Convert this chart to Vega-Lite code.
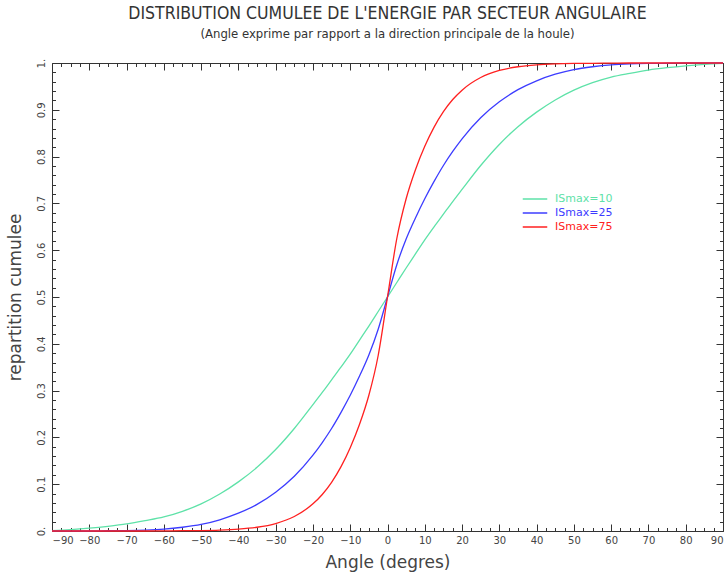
{
  "$schema": "https://vega.github.io/schema/vega-lite/v6.json",
  "width": 671,
  "height": 468,
  "autosize": "none",
  "padding": {"left": 52, "top": 63, "right": 4, "bottom": 44},
  "background": "white",
  "config": {"font": "DejaVu Sans", "view": {"stroke": null}},
  "title": {
    "text": "DISTRIBUTION CUMULEE DE L'ENERGIE PAR SECTEUR ANGULAIRE",
    "subtitle": "(Angle exprime par rapport a la direction principale de la houle)",
    "anchor": "middle",
    "font": "Liberation Sans Narrow, DejaVu Sans Condensed, Liberation Sans",
    "fontSize": 17.5,
    "fontWeight": "normal",
    "color": "#333333",
    "subtitleFont": "Liberation Sans Narrow, DejaVu Sans Condensed, Liberation Sans",
    "subtitleFontSize": 13,
    "subtitleColor": "#333333",
    "subtitlePadding": 6,
    "offset": 17
  },
  "data": {"values": [
    {"a": -90, "v": 0.001, "s": "ISmax=10"}, {"a": -85, "v": 0.003, "s": "ISmax=10"}, {"a": -80, "v": 0.006, "s": "ISmax=10"},
    {"a": -75, "v": 0.010, "s": "ISmax=10"}, {"a": -70, "v": 0.015, "s": "ISmax=10"}, {"a": -65, "v": 0.022, "s": "ISmax=10"},
    {"a": -60, "v": 0.030, "s": "ISmax=10"}, {"a": -55, "v": 0.042, "s": "ISmax=10"}, {"a": -50, "v": 0.058, "s": "ISmax=10"},
    {"a": -45, "v": 0.079, "s": "ISmax=10"}, {"a": -40, "v": 0.105, "s": "ISmax=10"}, {"a": -35, "v": 0.136, "s": "ISmax=10"},
    {"a": -30, "v": 0.174, "s": "ISmax=10"}, {"a": -25, "v": 0.219, "s": "ISmax=10"}, {"a": -20, "v": 0.270, "s": "ISmax=10"},
    {"a": -17.5, "v": 0.296, "s": "ISmax=10"}, {"a": -15, "v": 0.323, "s": "ISmax=10"}, {"a": -12.5, "v": 0.350, "s": "ISmax=10"},
    {"a": -10, "v": 0.378, "s": "ISmax=10"}, {"a": -7.5, "v": 0.408, "s": "ISmax=10"}, {"a": -5, "v": 0.438, "s": "ISmax=10"},
    {"a": -2.5, "v": 0.469, "s": "ISmax=10"}, {"a": 0, "v": 0.5, "s": "ISmax=10"}, {"a": 2.5, "v": 0.531, "s": "ISmax=10"},
    {"a": 5, "v": 0.562, "s": "ISmax=10"}, {"a": 7.5, "v": 0.592, "s": "ISmax=10"}, {"a": 10, "v": 0.622, "s": "ISmax=10"},
    {"a": 12.5, "v": 0.650, "s": "ISmax=10"}, {"a": 15, "v": 0.677, "s": "ISmax=10"}, {"a": 17.5, "v": 0.704, "s": "ISmax=10"},
    {"a": 20, "v": 0.730, "s": "ISmax=10"}, {"a": 25, "v": 0.781, "s": "ISmax=10"}, {"a": 30, "v": 0.826, "s": "ISmax=10"},
    {"a": 35, "v": 0.864, "s": "ISmax=10"}, {"a": 40, "v": 0.895, "s": "ISmax=10"}, {"a": 45, "v": 0.921, "s": "ISmax=10"},
    {"a": 50, "v": 0.942, "s": "ISmax=10"}, {"a": 55, "v": 0.958, "s": "ISmax=10"}, {"a": 60, "v": 0.970, "s": "ISmax=10"},
    {"a": 65, "v": 0.978, "s": "ISmax=10"}, {"a": 70, "v": 0.985, "s": "ISmax=10"}, {"a": 75, "v": 0.990, "s": "ISmax=10"},
    {"a": 80, "v": 0.994, "s": "ISmax=10"}, {"a": 85, "v": 0.997, "s": "ISmax=10"}, {"a": 90, "v": 0.999, "s": "ISmax=10"},

    {"a": -90, "v": 0, "s": "ISmax=25"}, {"a": -85, "v": 0, "s": "ISmax=25"}, {"a": -80, "v": 0, "s": "ISmax=25"},
    {"a": -75, "v": 0.0005, "s": "ISmax=25"}, {"a": -70, "v": 0.001, "s": "ISmax=25"}, {"a": -65, "v": 0.002, "s": "ISmax=25"},
    {"a": -60, "v": 0.004, "s": "ISmax=25"}, {"a": -55, "v": 0.008, "s": "ISmax=25"}, {"a": -50, "v": 0.014, "s": "ISmax=25"},
    {"a": -45, "v": 0.024, "s": "ISmax=25"}, {"a": -40, "v": 0.038, "s": "ISmax=25"}, {"a": -35, "v": 0.057, "s": "ISmax=25"},
    {"a": -30, "v": 0.083, "s": "ISmax=25"}, {"a": -25, "v": 0.117, "s": "ISmax=25"}, {"a": -20, "v": 0.162, "s": "ISmax=25"},
    {"a": -17.5, "v": 0.189, "s": "ISmax=25"}, {"a": -15, "v": 0.219, "s": "ISmax=25"}, {"a": -12.5, "v": 0.253, "s": "ISmax=25"},
    {"a": -10, "v": 0.290, "s": "ISmax=25"}, {"a": -7.5, "v": 0.331, "s": "ISmax=25"}, {"a": -5, "v": 0.376, "s": "ISmax=25"},
    {"a": -2.5, "v": 0.431, "s": "ISmax=25"}, {"a": 0, "v": 0.5, "s": "ISmax=25"}, {"a": 2.5, "v": 0.569, "s": "ISmax=25"},
    {"a": 5, "v": 0.624, "s": "ISmax=25"}, {"a": 7.5, "v": 0.669, "s": "ISmax=25"}, {"a": 10, "v": 0.710, "s": "ISmax=25"},
    {"a": 12.5, "v": 0.747, "s": "ISmax=25"}, {"a": 15, "v": 0.781, "s": "ISmax=25"}, {"a": 17.5, "v": 0.811, "s": "ISmax=25"},
    {"a": 20, "v": 0.838, "s": "ISmax=25"}, {"a": 25, "v": 0.883, "s": "ISmax=25"}, {"a": 30, "v": 0.917, "s": "ISmax=25"},
    {"a": 35, "v": 0.943, "s": "ISmax=25"}, {"a": 40, "v": 0.962, "s": "ISmax=25"}, {"a": 45, "v": 0.976, "s": "ISmax=25"},
    {"a": 50, "v": 0.986, "s": "ISmax=25"}, {"a": 55, "v": 0.992, "s": "ISmax=25"}, {"a": 60, "v": 0.996, "s": "ISmax=25"},
    {"a": 65, "v": 0.998, "s": "ISmax=25"}, {"a": 70, "v": 0.999, "s": "ISmax=25"}, {"a": 75, "v": 0.9995, "s": "ISmax=25"},
    {"a": 80, "v": 1, "s": "ISmax=25"}, {"a": 85, "v": 1, "s": "ISmax=25"}, {"a": 90, "v": 1, "s": "ISmax=25"},

    {"a": -90, "v": 0, "s": "ISmax=75"}, {"a": -85, "v": 0, "s": "ISmax=75"}, {"a": -80, "v": 0, "s": "ISmax=75"},
    {"a": -75, "v": 0, "s": "ISmax=75"}, {"a": -70, "v": 0, "s": "ISmax=75"}, {"a": -65, "v": 0, "s": "ISmax=75"},
    {"a": -60, "v": 0.0003, "s": "ISmax=75"}, {"a": -55, "v": 0.0006, "s": "ISmax=75"}, {"a": -50, "v": 0.001, "s": "ISmax=75"},
    {"a": -45, "v": 0.002, "s": "ISmax=75"}, {"a": -40, "v": 0.004, "s": "ISmax=75"}, {"a": -35, "v": 0.008, "s": "ISmax=75"},
    {"a": -30, "v": 0.016, "s": "ISmax=75"}, {"a": -25, "v": 0.031, "s": "ISmax=75"}, {"a": -20, "v": 0.058, "s": "ISmax=75"},
    {"a": -17.5, "v": 0.078, "s": "ISmax=75"}, {"a": -15, "v": 0.104, "s": "ISmax=75"}, {"a": -12.5, "v": 0.137, "s": "ISmax=75"},
    {"a": -10, "v": 0.178, "s": "ISmax=75"}, {"a": -7.5, "v": 0.228, "s": "ISmax=75"}, {"a": -5, "v": 0.290, "s": "ISmax=75"},
    {"a": -2.5, "v": 0.375, "s": "ISmax=75"}, {"a": 0, "v": 0.5, "s": "ISmax=75"}, {"a": 2.5, "v": 0.625, "s": "ISmax=75"},
    {"a": 5, "v": 0.710, "s": "ISmax=75"}, {"a": 7.5, "v": 0.772, "s": "ISmax=75"}, {"a": 10, "v": 0.822, "s": "ISmax=75"},
    {"a": 12.5, "v": 0.863, "s": "ISmax=75"}, {"a": 15, "v": 0.896, "s": "ISmax=75"}, {"a": 17.5, "v": 0.922, "s": "ISmax=75"},
    {"a": 20, "v": 0.942, "s": "ISmax=75"}, {"a": 25, "v": 0.969, "s": "ISmax=75"}, {"a": 30, "v": 0.984, "s": "ISmax=75"},
    {"a": 35, "v": 0.992, "s": "ISmax=75"}, {"a": 40, "v": 0.996, "s": "ISmax=75"}, {"a": 45, "v": 0.998, "s": "ISmax=75"},
    {"a": 50, "v": 0.999, "s": "ISmax=75"}, {"a": 55, "v": 0.9994, "s": "ISmax=75"}, {"a": 60, "v": 0.9997, "s": "ISmax=75"},
    {"a": 65, "v": 1, "s": "ISmax=75"}, {"a": 70, "v": 1, "s": "ISmax=75"}, {"a": 75, "v": 1, "s": "ISmax=75"},
    {"a": 80, "v": 1, "s": "ISmax=75"}, {"a": 85, "v": 1, "s": "ISmax=75"}, {"a": 90, "v": 1, "s": "ISmax=75"}
  ]},
  "layer": [
    {
      "mark": {"type": "line", "interpolate": "monotone", "strokeWidth": 1.3},
      "encoding": {
        "x": {
          "field": "a", "type": "quantitative",
          "scale": {"domain": [-90, 90], "nice": false, "zero": false},
          "axis": {
            "orient": "bottom",
            "title": "Angle (degres)",
            "titleFont": "DejaVu Sans", "titleFontSize": 17, "titleFontWeight": "normal", "titleColor": "#444444", "titlePadding": 6,
            "values": [-90,-87.5,-85,-82.5,-80,-77.5,-75,-72.5,-70,-67.5,-65,-62.5,-60,-57.5,-55,-52.5,-50,-47.5,-45,-42.5,-40,-37.5,-35,-32.5,-30,-27.5,-25,-22.5,-20,-17.5,-15,-12.5,-10,-7.5,-5,-2.5,0,2.5,5,7.5,10,12.5,15,17.5,20,22.5,25,27.5,30,32.5,35,37.5,40,42.5,45,47.5,50,52.5,55,57.5,60,62.5,65,67.5,70,72.5,75,77.5,80,82.5,85,87.5,90],
            "labelExpr": "datum.value % 10 === 0 ? format(datum.value, 'd') : ''",
            "labelFont": "DejaVu Sans", "labelFontSize": 10, "labelColor": "#444444",
            "labelPadding": 11, "labelFlush": true, "labelOverlap": false,
            "tickSize": {"condition": {"test": "datum.value % 10 === 0", "value": -7}, "value": -3.5},
            "tickColor": "#333333", "domainColor": "#333333", "grid": false
          }
        },
        "y": {
          "field": "v", "type": "quantitative",
          "scale": {"domain": [0, 1], "nice": false},
          "axis": {
            "orient": "left",
            "title": "repartition cumulee",
            "titleFont": "DejaVu Sans", "titleFontSize": 17, "titleFontWeight": "normal", "titleColor": "#444444", "titlePadding": 8,
            "values": [0,0.02,0.04,0.06,0.08,0.1,0.12,0.14,0.16,0.18,0.2,0.22,0.24,0.26,0.28,0.3,0.32,0.34,0.36,0.38,0.4,0.42,0.44,0.46,0.48,0.5,0.52,0.54,0.56,0.58,0.6,0.62,0.64,0.66,0.68,0.7,0.72,0.74,0.76,0.78,0.8,0.82,0.84,0.86,0.88,0.9,0.92,0.94,0.96,0.98,1],
            "labelExpr": "abs(datum.value*10 - round(datum.value*10)) < 0.001 ? (datum.value < 0.001 ? '0.' : (datum.value > 0.999 ? '1.' : format(datum.value, '.1f'))) : ''",
            "labelFont": "DejaVu Sans", "labelFontSize": 10, "labelColor": "#444444",
            "labelAngle": -90, "labelAlign": "center", "labelBaseline": "bottom",
            "labelPadding": 13, "labelFlush": false, "labelOverlap": false,
            "tickSize": {"condition": {"test": "abs(datum.value*10 - round(datum.value*10)) < 0.001", "value": -7}, "value": -3.5},
            "tickColor": "#333333", "domainColor": "#333333", "grid": false
          }
        },
        "color": {
          "field": "s", "type": "nominal",
          "scale": {"domain": ["ISmax=10", "ISmax=25", "ISmax=75"], "range": ["#5ee2a8", "#3c3cff", "#ff2020"]},
          "legend": {
            "title": null,
            "orient": "none",
            "legendX": 470,
            "legendY": 130,
            "padding": 0,
            "symbolType": "stroke",
            "symbolSize": 600,
            "symbolStrokeWidth": 1.3,
            "clipHeight": 12,
            "rowPadding": 2,
            "labelFont": "DejaVu Sans",
            "labelFontSize": 11,
            "labelOffset": 7,
            "encode": {"labels": {"update": {"fill": {"scale": "color", "field": "value"}}}}
          }
        }
      }
    },
    {
      "mark": {"type": "point", "opacity": 0},
      "encoding": {
        "x": {
          "field": "a", "type": "quantitative",
          "scale": {"domain": [-90, 90], "nice": false, "zero": false},
          "axis": {
            "orient": "top", "title": null, "labels": false, "grid": false,
            "values": [-90,-87.5,-85,-82.5,-80,-77.5,-75,-72.5,-70,-67.5,-65,-62.5,-60,-57.5,-55,-52.5,-50,-47.5,-45,-42.5,-40,-37.5,-35,-32.5,-30,-27.5,-25,-22.5,-20,-17.5,-15,-12.5,-10,-7.5,-5,-2.5,0,2.5,5,7.5,10,12.5,15,17.5,20,22.5,25,27.5,30,32.5,35,37.5,40,42.5,45,47.5,50,52.5,55,57.5,60,62.5,65,67.5,70,72.5,75,77.5,80,82.5,85,87.5,90],
            "tickSize": {"condition": {"test": "datum.value % 10 === 0", "value": -7}, "value": -3.5},
            "tickColor": "#333333", "domainColor": "#333333"
          }
        },
        "y": {
          "field": "v", "type": "quantitative",
          "scale": {"domain": [0, 1], "nice": false},
          "axis": {
            "orient": "right", "title": null, "labels": false, "grid": false,
            "values": [0,0.02,0.04,0.06,0.08,0.1,0.12,0.14,0.16,0.18,0.2,0.22,0.24,0.26,0.28,0.3,0.32,0.34,0.36,0.38,0.4,0.42,0.44,0.46,0.48,0.5,0.52,0.54,0.56,0.58,0.6,0.62,0.64,0.66,0.68,0.7,0.72,0.74,0.76,0.78,0.8,0.82,0.84,0.86,0.88,0.9,0.92,0.94,0.96,0.98,1],
            "tickSize": {"condition": {"test": "abs(datum.value*10 - round(datum.value*10)) < 0.001", "value": -7}, "value": -3.5},
            "tickColor": "#333333", "domainColor": "#333333"
          }
        }
      }
    }
  ],
  "resolve": {"axis": {"x": "independent", "y": "independent"}}
}
